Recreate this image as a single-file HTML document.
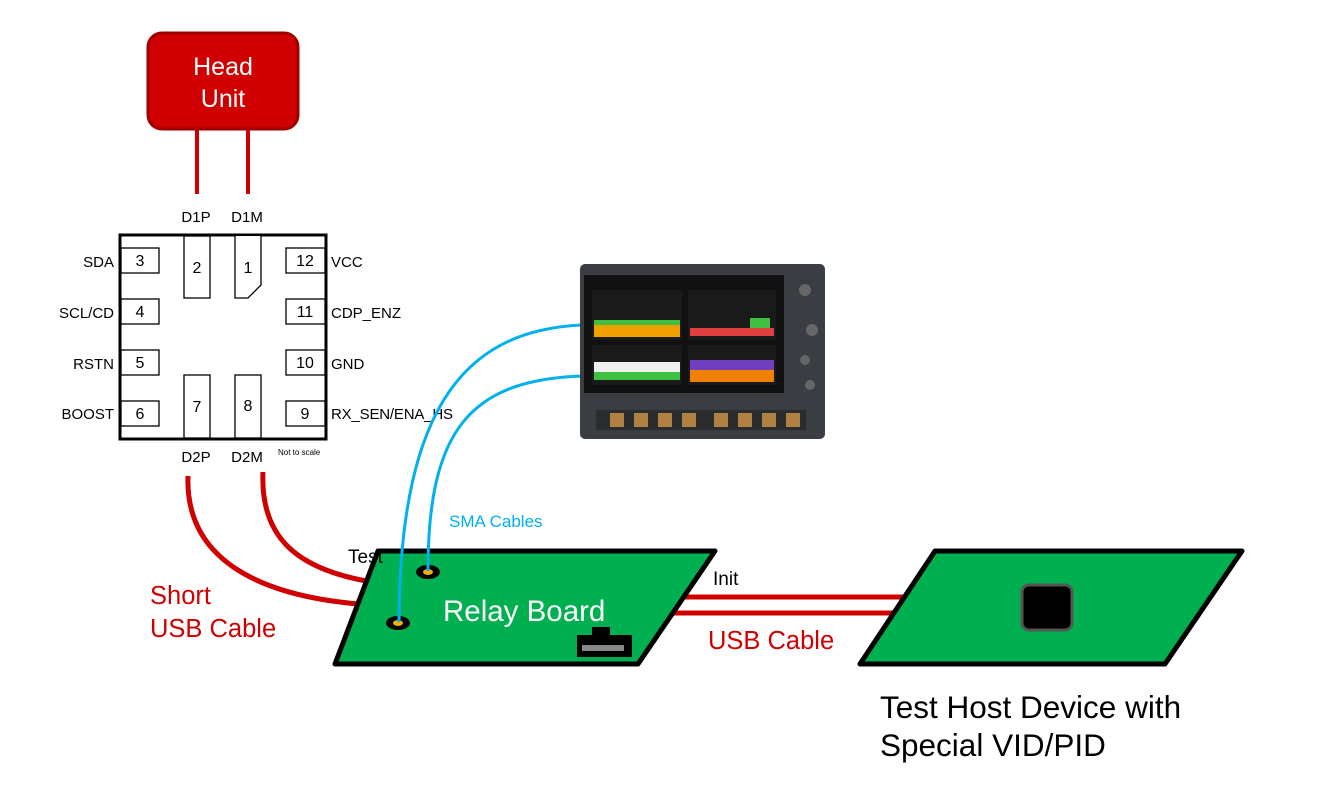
<!DOCTYPE html>
<html><head><style>
body{margin:0;background:#fff;width:1317px;height:789px;overflow:hidden;font-family:"Liberation Sans",sans-serif}
</style></head><body>
<svg width="1317" height="789" viewBox="0 0 1317 789" xmlns="http://www.w3.org/2000/svg" font-family="Liberation Sans, sans-serif">
<!-- Head unit -->
<rect x="148" y="33" width="150" height="96" rx="14" fill="#d00000" stroke="#a00000" stroke-width="3"/>
<text x="223" y="75" fill="#fff" font-size="25" text-anchor="middle">Head</text>
<text x="223" y="107" fill="#fff" font-size="25" text-anchor="middle">Unit</text>
<line x1="197" y1="130" x2="197" y2="194" stroke="#d00000" stroke-width="4"/>
<line x1="248" y1="130" x2="248" y2="194" stroke="#d00000" stroke-width="4"/>
<!-- chip -->
<g font-size="15" fill="#000">
<text x="196" y="222" text-anchor="middle">D1P</text>
<text x="247" y="222" text-anchor="middle">D1M</text>
<text x="196" y="462" text-anchor="middle">D2P</text>
<text x="247" y="462" text-anchor="middle">D2M</text>
<text x="278" y="455" font-size="8">Not to scale</text>
</g>
<rect x="120" y="235" width="206" height="204" fill="#fff" stroke="#000" stroke-width="3"/>
<g fill="#fff" stroke="#000" stroke-width="1.3">
<rect x="121" y="248" width="38" height="25"/>
<rect x="121" y="299" width="38" height="25"/>
<rect x="121" y="350" width="38" height="25"/>
<rect x="121" y="401" width="38" height="25"/>
<rect x="286" y="248" width="39" height="25"/>
<rect x="286" y="299" width="39" height="25"/>
<rect x="286" y="350" width="39" height="25"/>
<rect x="286" y="401" width="39" height="25"/>
<rect x="184" y="236" width="26" height="62"/>
<path d="M235 236 V298 H248 L261 285 V236"/>
<rect x="184" y="375" width="26" height="63"/>
<rect x="235" y="375" width="26" height="63"/>
</g>
<g font-size="16" fill="#000" text-anchor="middle">
<text x="140" y="266">3</text><text x="140" y="317">4</text><text x="140" y="368">5</text><text x="140" y="419">6</text>
<text x="305" y="266">12</text><text x="305" y="317">11</text><text x="305" y="368">10</text><text x="305" y="419">9</text>
<text x="197" y="273">2</text><text x="248" y="273">1</text><text x="197" y="412">7</text><text x="248" y="411">8</text>
</g>
<g font-size="15" fill="#000" text-anchor="end">
<text x="114" y="267">SDA</text><text x="114" y="318">SCL/CD</text><text x="114" y="369">RSTN</text><text x="114" y="419">BOOST</text>
</g>
<g font-size="15" fill="#000">
<text x="331" y="267">VCC</text><text x="331" y="318">CDP_ENZ</text><text x="331" y="369">GND</text><text x="331" y="419" textLength="122">RX_SEN/ENA_HS</text>
</g>
<!-- red short cables -->
<path d="M188 476 C185 560 260 598 372 605" fill="none" stroke="#d00000" stroke-width="5"/>
<path d="M263 472 C260 540 300 570 372 582" fill="none" stroke="#d00000" stroke-width="5"/>
<text x="150" y="604" fill="#d00000" font-size="25.5">Short</text>
<text x="150" y="637" fill="#d00000" font-size="25.5">USB Cable</text>
<!-- USB cable -->
<line x1="680" y1="597" x2="910" y2="597" stroke="#d00000" stroke-width="5"/>
<line x1="668" y1="613" x2="900" y2="613" stroke="#d00000" stroke-width="5"/>
<text x="713" y="585" font-size="19" fill="#000">Init</text>
<text x="708" y="649" font-size="25.5" fill="#d00000">USB Cable</text>
<!-- relay board -->
<polygon points="378,551 715,551 638,664 335,664" fill="#00b050" stroke="#000" stroke-width="5" stroke-linejoin="round"/>
<text x="443" y="621" font-size="29.5" fill="#fff">Relay Board</text>
<rect x="592" y="627" width="18" height="10" fill="#000"/>
<rect x="577" y="635" width="55" height="22" fill="#000"/>
<rect x="582" y="645" width="42" height="6" fill="#888"/>
<ellipse cx="428" cy="572" rx="12" ry="7" fill="#000"/><ellipse cx="428" cy="572" rx="5" ry="3" fill="#f0b000"/>
<ellipse cx="398" cy="623" rx="12" ry="7" fill="#000"/><ellipse cx="398" cy="623" rx="5" ry="3" fill="#f0b000"/>
<text x="348" y="563" font-size="19" fill="#000">Test</text>
<!-- blue cables -->
<path d="M582 325 C470 330 400 400 399 622" fill="none" stroke="#00b0f0" stroke-width="3"/>
<path d="M582 376 C470 380 428 430 428 571" fill="none" stroke="#00b0f0" stroke-width="3"/>
<text x="449" y="527" font-size="17" fill="#00b0f0">SMA Cables</text>
<!-- host board -->
<polygon points="935,551 1242,551 1165,664 860,664" fill="#00b050" stroke="#000" stroke-width="5" stroke-linejoin="round"/>
<rect x="1022" y="585" width="50" height="45" rx="7" fill="#000" stroke="#555" stroke-width="3"/>
<text x="880" y="718" font-size="31.5" fill="#000">Test Host Device with</text>
<text x="880" y="756" font-size="31.5" fill="#000">Special VID/PID</text>
<!-- oscilloscope -->
<rect x="580" y="264" width="245" height="175" rx="5" fill="#3a3d42"/>
<rect x="584" y="275" width="200" height="118" fill="#111"/>
<rect x="592" y="290" width="90" height="50" fill="#1a1a1a"/>
<rect x="594" y="325" width="86" height="12" fill="#f0a000"/>
<rect x="594" y="320" width="86" height="5" fill="#40c040"/>
<rect x="688" y="290" width="88" height="50" fill="#1a1a1a"/>
<rect x="690" y="328" width="84" height="8" fill="#e04040"/>
<rect x="750" y="318" width="20" height="10" fill="#40c040"/>
<rect x="592" y="345" width="90" height="40" fill="#1a1a1a"/>
<rect x="594" y="362" width="86" height="10" fill="#f0f0f0"/>
<rect x="594" y="372" width="86" height="8" fill="#40c040"/>
<rect x="688" y="345" width="88" height="40" fill="#1a1a1a"/>
<rect x="690" y="360" width="84" height="10" fill="#7040c0"/>
<rect x="690" y="370" width="84" height="12" fill="#f08000"/>
<rect x="596" y="410" width="210" height="20" fill="#2a2c30"/>
<g fill="#b08040"><rect x="610" y="413" width="14" height="14"/><rect x="634" y="413" width="14" height="14"/><rect x="658" y="413" width="14" height="14"/><rect x="682" y="413" width="14" height="14"/><rect x="714" y="413" width="14" height="14"/><rect x="738" y="413" width="14" height="14"/><rect x="762" y="413" width="14" height="14"/><rect x="786" y="413" width="14" height="14"/></g>
<g fill="#666"><circle cx="805" cy="290" r="6"/><circle cx="812" cy="330" r="6"/><circle cx="805" cy="360" r="5"/><circle cx="810" cy="385" r="5"/></g>
</svg>
</body></html>
